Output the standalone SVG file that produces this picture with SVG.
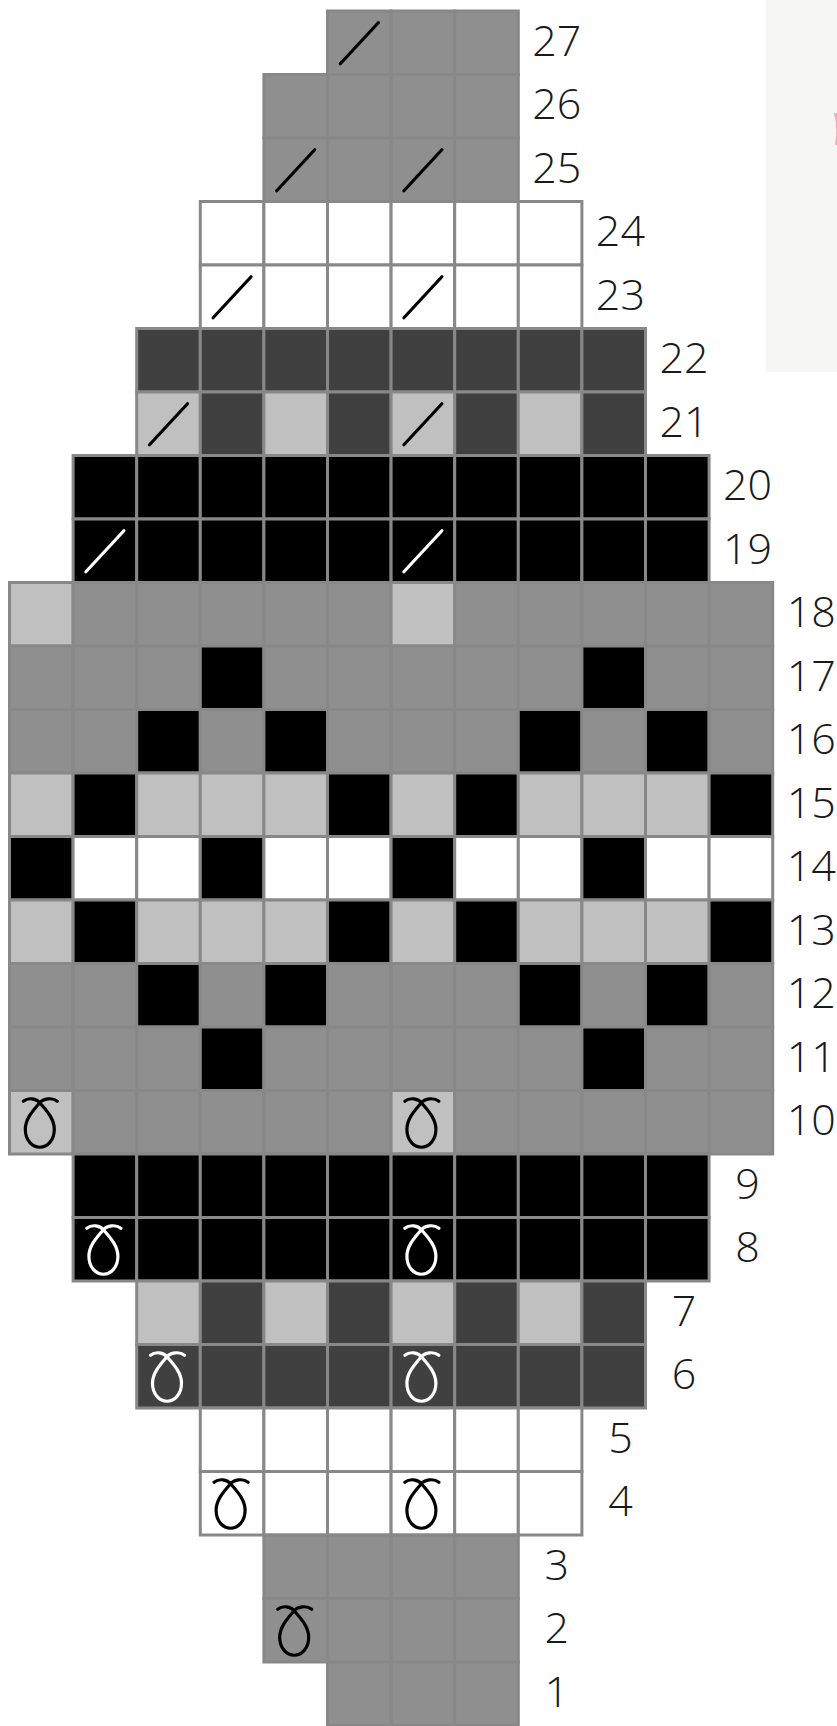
<svg xmlns="http://www.w3.org/2000/svg" xmlns:xlink="http://www.w3.org/1999/xlink" width="837" height="1726" viewBox="0 0 837 1726">
<style>
g.r rect{width:63.6px;height:63.5px;stroke:#888;stroke-width:3}
.g{fill:#8f8f8f}.l{fill:#c0c0c0}.d{fill:#404040}.k{fill:#000}.w{fill:#fff}
.sy{fill:none;stroke-width:3.2;stroke-linecap:round;stroke-linejoin:round}
.bk{stroke:#000}.wh{stroke:#fff}
text{font-family:"Open Sans","Liberation Sans",sans-serif;font-weight:300;font-size:43px;fill:#1a1a1a;text-anchor:middle}
</style>
<defs>
<path id="sl" d="M-19,21 L19,-20"/>
<path id="lp" d="M-18,-21 C-13,-25 -5,-24 -1,-19 C4,-13 13,-4 13,7 C13,18 6,25 -1.5,25 C-9,25 -16,18 -16,7 C-16,-4 -7,-13 -2,-19 C2,-24 11,-25 16,-21"/>
</defs>
<rect id="photo" x="766" y="0" width="71" height="372" fill="#f6f6f4"/>
<path d="M834,113 Q838,128 835,145 L837,145 L837,113 Z" fill="#eeb0b8"/>

<g id="row27" class="r" transform="translate(0,11)">
<rect class="g" x="327.5" y="0"/><rect class="g" x="391.1" y="0"/><rect class="g" x="454.7" y="0"/>
<use href="#sl" x="359.3" y="31.75" class="sy bk"/>
<text x="556.8" y="44.5">27</text>
</g>
<g id="row26" class="r" transform="translate(0,74.5)">
<rect class="g" x="263.9" y="0"/><rect class="g" x="327.5" y="0"/><rect class="g" x="391.1" y="0"/><rect class="g" x="454.7" y="0"/>
<text x="556.8" y="44.5">26</text>
</g>
<g id="row25" class="r" transform="translate(0,138)">
<rect class="g" x="263.9" y="0"/><rect class="g" x="327.5" y="0"/><rect class="g" x="391.1" y="0"/><rect class="g" x="454.7" y="0"/>
<use href="#sl" x="295.7" y="31.75" class="sy bk"/><use href="#sl" x="422.9" y="31.75" class="sy bk"/>
<text x="556.8" y="44.5">25</text>
</g>
<g id="row24" class="r" transform="translate(0,201.5)">
<rect class="w" x="200.3" y="0"/><rect class="w" x="263.9" y="0"/><rect class="w" x="327.5" y="0"/><rect class="w" x="391.1" y="0"/><rect class="w" x="454.7" y="0"/><rect class="w" x="518.3" y="0"/>
<text x="620.4" y="44.5">24</text>
</g>
<g id="row23" class="r" transform="translate(0,265)">
<rect class="w" x="200.3" y="0"/><rect class="w" x="263.9" y="0"/><rect class="w" x="327.5" y="0"/><rect class="w" x="391.1" y="0"/><rect class="w" x="454.7" y="0"/><rect class="w" x="518.3" y="0"/>
<use href="#sl" x="232.1" y="31.75" class="sy bk"/><use href="#sl" x="422.9" y="31.75" class="sy bk"/>
<text x="620.4" y="44.5">23</text>
</g>
<g id="row22" class="r" transform="translate(0,328.5)">
<rect class="d" x="136.7" y="0"/><rect class="d" x="200.3" y="0"/><rect class="d" x="263.9" y="0"/><rect class="d" x="327.5" y="0"/><rect class="d" x="391.1" y="0"/><rect class="d" x="454.7" y="0"/><rect class="d" x="518.3" y="0"/><rect class="d" x="581.9" y="0"/>
<text x="684" y="44.5">22</text>
</g>
<g id="row21" class="r" transform="translate(0,392)">
<rect class="l" x="136.7" y="0"/><rect class="d" x="200.3" y="0"/><rect class="l" x="263.9" y="0"/><rect class="d" x="327.5" y="0"/><rect class="l" x="391.1" y="0"/><rect class="d" x="454.7" y="0"/><rect class="l" x="518.3" y="0"/><rect class="d" x="581.9" y="0"/>
<use href="#sl" x="168.5" y="31.75" class="sy bk"/><use href="#sl" x="422.9" y="31.75" class="sy bk"/>
<text x="684" y="44.5">21</text>
</g>
<g id="row20" class="r" transform="translate(0,455.5)">
<rect class="k" x="73.1" y="0"/><rect class="k" x="136.7" y="0"/><rect class="k" x="200.3" y="0"/><rect class="k" x="263.9" y="0"/><rect class="k" x="327.5" y="0"/><rect class="k" x="391.1" y="0"/><rect class="k" x="454.7" y="0"/><rect class="k" x="518.3" y="0"/><rect class="k" x="581.9" y="0"/><rect class="k" x="645.5" y="0"/>
<text x="747.6" y="44.5">20</text>
</g>
<g id="row19" class="r" transform="translate(0,519)">
<rect class="k" x="73.1" y="0"/><rect class="k" x="136.7" y="0"/><rect class="k" x="200.3" y="0"/><rect class="k" x="263.9" y="0"/><rect class="k" x="327.5" y="0"/><rect class="k" x="391.1" y="0"/><rect class="k" x="454.7" y="0"/><rect class="k" x="518.3" y="0"/><rect class="k" x="581.9" y="0"/><rect class="k" x="645.5" y="0"/>
<use href="#sl" x="104.9" y="31.75" class="sy wh"/><use href="#sl" x="422.9" y="31.75" class="sy wh"/>
<text x="747.6" y="44.5">19</text>
</g>
<g id="row18" class="r" transform="translate(0,582.5)">
<rect class="l" x="9.5" y="0"/><rect class="g" x="73.1" y="0"/><rect class="g" x="136.7" y="0"/><rect class="g" x="200.3" y="0"/><rect class="g" x="263.9" y="0"/><rect class="g" x="327.5" y="0"/><rect class="l" x="391.1" y="0"/><rect class="g" x="454.7" y="0"/><rect class="g" x="518.3" y="0"/><rect class="g" x="581.9" y="0"/><rect class="g" x="645.5" y="0"/><rect class="g" x="709.1" y="0"/>
<text x="811.2" y="44.5">18</text>
</g>
<g id="row17" class="r" transform="translate(0,646)">
<rect class="g" x="9.5" y="0"/><rect class="g" x="73.1" y="0"/><rect class="g" x="136.7" y="0"/><rect class="k" x="200.3" y="0"/><rect class="g" x="263.9" y="0"/><rect class="g" x="327.5" y="0"/><rect class="g" x="391.1" y="0"/><rect class="g" x="454.7" y="0"/><rect class="g" x="518.3" y="0"/><rect class="k" x="581.9" y="0"/><rect class="g" x="645.5" y="0"/><rect class="g" x="709.1" y="0"/>
<text x="811.2" y="44.5">17</text>
</g>
<g id="row16" class="r" transform="translate(0,709.5)">
<rect class="g" x="9.5" y="0"/><rect class="g" x="73.1" y="0"/><rect class="k" x="136.7" y="0"/><rect class="g" x="200.3" y="0"/><rect class="k" x="263.9" y="0"/><rect class="g" x="327.5" y="0"/><rect class="g" x="391.1" y="0"/><rect class="g" x="454.7" y="0"/><rect class="k" x="518.3" y="0"/><rect class="g" x="581.9" y="0"/><rect class="k" x="645.5" y="0"/><rect class="g" x="709.1" y="0"/>
<text x="811.2" y="44.5">16</text>
</g>
<g id="row15" class="r" transform="translate(0,773)">
<rect class="l" x="9.5" y="0"/><rect class="k" x="73.1" y="0"/><rect class="l" x="136.7" y="0"/><rect class="l" x="200.3" y="0"/><rect class="l" x="263.9" y="0"/><rect class="k" x="327.5" y="0"/><rect class="l" x="391.1" y="0"/><rect class="k" x="454.7" y="0"/><rect class="l" x="518.3" y="0"/><rect class="l" x="581.9" y="0"/><rect class="l" x="645.5" y="0"/><rect class="k" x="709.1" y="0"/>
<text x="811.2" y="44.5">15</text>
</g>
<g id="row14" class="r" transform="translate(0,836.5)">
<rect class="k" x="9.5" y="0"/><rect class="w" x="73.1" y="0"/><rect class="w" x="136.7" y="0"/><rect class="k" x="200.3" y="0"/><rect class="w" x="263.9" y="0"/><rect class="w" x="327.5" y="0"/><rect class="k" x="391.1" y="0"/><rect class="w" x="454.7" y="0"/><rect class="w" x="518.3" y="0"/><rect class="k" x="581.9" y="0"/><rect class="w" x="645.5" y="0"/><rect class="w" x="709.1" y="0"/>
<text x="811.2" y="44.5">14</text>
</g>
<g id="row13" class="r" transform="translate(0,900)">
<rect class="l" x="9.5" y="0"/><rect class="k" x="73.1" y="0"/><rect class="l" x="136.7" y="0"/><rect class="l" x="200.3" y="0"/><rect class="l" x="263.9" y="0"/><rect class="k" x="327.5" y="0"/><rect class="l" x="391.1" y="0"/><rect class="k" x="454.7" y="0"/><rect class="l" x="518.3" y="0"/><rect class="l" x="581.9" y="0"/><rect class="l" x="645.5" y="0"/><rect class="k" x="709.1" y="0"/>
<text x="811.2" y="44.5">13</text>
</g>
<g id="row12" class="r" transform="translate(0,963.5)">
<rect class="g" x="9.5" y="0"/><rect class="g" x="73.1" y="0"/><rect class="k" x="136.7" y="0"/><rect class="g" x="200.3" y="0"/><rect class="k" x="263.9" y="0"/><rect class="g" x="327.5" y="0"/><rect class="g" x="391.1" y="0"/><rect class="g" x="454.7" y="0"/><rect class="k" x="518.3" y="0"/><rect class="g" x="581.9" y="0"/><rect class="k" x="645.5" y="0"/><rect class="g" x="709.1" y="0"/>
<text x="811.2" y="44.5">12</text>
</g>
<g id="row11" class="r" transform="translate(0,1027)">
<rect class="g" x="9.5" y="0"/><rect class="g" x="73.1" y="0"/><rect class="g" x="136.7" y="0"/><rect class="k" x="200.3" y="0"/><rect class="g" x="263.9" y="0"/><rect class="g" x="327.5" y="0"/><rect class="g" x="391.1" y="0"/><rect class="g" x="454.7" y="0"/><rect class="g" x="518.3" y="0"/><rect class="k" x="581.9" y="0"/><rect class="g" x="645.5" y="0"/><rect class="g" x="709.1" y="0"/>
<text x="811.2" y="44.5">11</text>
</g>
<g id="row10" class="r" transform="translate(0,1090.5)">
<rect class="l" x="9.5" y="0"/><rect class="g" x="73.1" y="0"/><rect class="g" x="136.7" y="0"/><rect class="g" x="200.3" y="0"/><rect class="g" x="263.9" y="0"/><rect class="g" x="327.5" y="0"/><rect class="l" x="391.1" y="0"/><rect class="g" x="454.7" y="0"/><rect class="g" x="518.3" y="0"/><rect class="g" x="581.9" y="0"/><rect class="g" x="645.5" y="0"/><rect class="g" x="709.1" y="0"/>
<use href="#lp" x="41.3" y="31.75" class="sy bk"/><use href="#lp" x="422.9" y="31.75" class="sy bk"/>
<text x="811.2" y="44.5">10</text>
</g>
<g id="row9" class="r" transform="translate(0,1154)">
<rect class="k" x="73.1" y="0"/><rect class="k" x="136.7" y="0"/><rect class="k" x="200.3" y="0"/><rect class="k" x="263.9" y="0"/><rect class="k" x="327.5" y="0"/><rect class="k" x="391.1" y="0"/><rect class="k" x="454.7" y="0"/><rect class="k" x="518.3" y="0"/><rect class="k" x="581.9" y="0"/><rect class="k" x="645.5" y="0"/>
<text x="747.6" y="44.5">9</text>
</g>
<g id="row8" class="r" transform="translate(0,1217.5)">
<rect class="k" x="73.1" y="0"/><rect class="k" x="136.7" y="0"/><rect class="k" x="200.3" y="0"/><rect class="k" x="263.9" y="0"/><rect class="k" x="327.5" y="0"/><rect class="k" x="391.1" y="0"/><rect class="k" x="454.7" y="0"/><rect class="k" x="518.3" y="0"/><rect class="k" x="581.9" y="0"/><rect class="k" x="645.5" y="0"/>
<use href="#lp" x="104.9" y="31.75" class="sy wh"/><use href="#lp" x="422.9" y="31.75" class="sy wh"/>
<text x="747.6" y="44.5">8</text>
</g>
<g id="row7" class="r" transform="translate(0,1281)">
<rect class="l" x="136.7" y="0"/><rect class="d" x="200.3" y="0"/><rect class="l" x="263.9" y="0"/><rect class="d" x="327.5" y="0"/><rect class="l" x="391.1" y="0"/><rect class="d" x="454.7" y="0"/><rect class="l" x="518.3" y="0"/><rect class="d" x="581.9" y="0"/>
<text x="684" y="44.5">7</text>
</g>
<g id="row6" class="r" transform="translate(0,1344.5)">
<rect class="d" x="136.7" y="0"/><rect class="d" x="200.3" y="0"/><rect class="d" x="263.9" y="0"/><rect class="d" x="327.5" y="0"/><rect class="d" x="391.1" y="0"/><rect class="d" x="454.7" y="0"/><rect class="d" x="518.3" y="0"/><rect class="d" x="581.9" y="0"/>
<use href="#lp" x="168.5" y="31.75" class="sy wh"/><use href="#lp" x="422.9" y="31.75" class="sy wh"/>
<text x="684" y="44.5">6</text>
</g>
<g id="row5" class="r" transform="translate(0,1408)">
<rect class="w" x="200.3" y="0"/><rect class="w" x="263.9" y="0"/><rect class="w" x="327.5" y="0"/><rect class="w" x="391.1" y="0"/><rect class="w" x="454.7" y="0"/><rect class="w" x="518.3" y="0"/>
<text x="620.4" y="44.5">5</text>
</g>
<g id="row4" class="r" transform="translate(0,1471.5)">
<rect class="w" x="200.3" y="0"/><rect class="w" x="263.9" y="0"/><rect class="w" x="327.5" y="0"/><rect class="w" x="391.1" y="0"/><rect class="w" x="454.7" y="0"/><rect class="w" x="518.3" y="0"/>
<use href="#lp" x="232.1" y="31.75" class="sy bk"/><use href="#lp" x="422.9" y="31.75" class="sy bk"/>
<text x="620.4" y="44.5">4</text>
</g>
<g id="row3" class="r" transform="translate(0,1535)">
<rect class="g" x="263.9" y="0"/><rect class="g" x="327.5" y="0"/><rect class="g" x="391.1" y="0"/><rect class="g" x="454.7" y="0"/>
<text x="556.8" y="44.5">3</text>
</g>
<g id="row2" class="r" transform="translate(0,1598.5)">
<rect class="g" x="263.9" y="0"/><rect class="g" x="327.5" y="0"/><rect class="g" x="391.1" y="0"/><rect class="g" x="454.7" y="0"/>
<use href="#lp" x="295.7" y="31.75" class="sy bk"/>
<text x="556.8" y="44.5">2</text>
</g>
<g id="row1" class="r" transform="translate(0,1662)">
<rect class="g" x="327.5" y="0"/><rect class="g" x="391.1" y="0"/><rect class="g" x="454.7" y="0"/>
<text x="556.8" y="44.5">1</text>
</g>
</svg>
